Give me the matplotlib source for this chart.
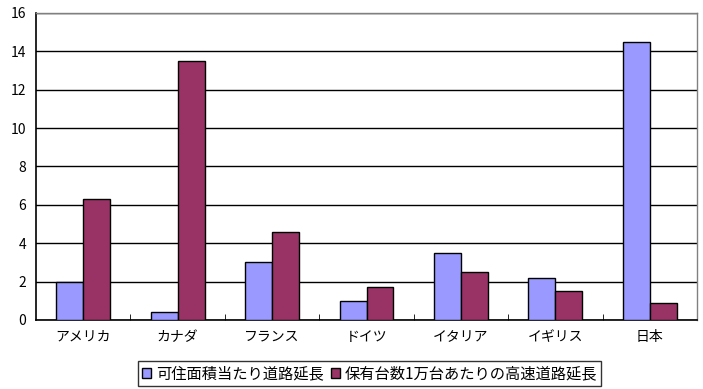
import matplotlib
matplotlib.use("Agg")
import matplotlib.pyplot as plt
import numpy as np

plt.rcParams['font.family'] = ['Noto Sans CJK JP', 'DejaVu Sans']

countries = ["アメリカ", "カナダ", "フランス", "ドイツ", "イタリア", "イギリス", "日本"]
road_per_area = [2.0, 0.42, 3.0, 1.0, 3.5, 2.2, 14.5]
highway_per_10k = [6.3, 13.5, 4.6, 1.7, 2.5, 1.5, 0.9]
series_names = ["可住面積当たり道路延長", "保有台数1万台あたりの高速道路延長"]

fig = plt.figure(figsize=(7.03, 3.89), dpi=100)
ax = fig.add_axes([0.0512, 0.1774, 0.9403, 0.7892])

x = np.arange(len(countries))
w = 0.2857
ax.bar(x - w/2, road_per_area, w, color="#9999FF", edgecolor="black", linewidth=1, label=series_names[0], zorder=3)
ax.bar(x + w/2, highway_per_10k, w, color="#993366", edgecolor="black", linewidth=1, label=series_names[1], zorder=3)

ax.set_xlim(-0.5, len(countries) - 0.5)
ax.set_ylim(0, 16)
ax.set_yticks(range(0, 17, 2))
ax.yaxis.grid(True, color="black", linewidth=1, zorder=0)
ax.tick_params(axis="y", length=0, labelsize=10, pad=7)

ax.set_xticks(x)
ax.set_xticklabels(countries, fontsize=10)
ax.tick_params(axis="x", length=0, pad=7)
ax.set_xticks(np.arange(0.5, len(countries) - 0.5, 1), minor=True)
ax.tick_params(axis="x", which="minor", direction="in", length=4, color="black")

for s in ["left", "bottom"]:
    ax.spines[s].set_color("black")
    ax.spines[s].set_linewidth(1.2)
for s in ["top", "right"]:
    ax.spines[s].set_color("#808080")
    ax.spines[s].set_linewidth(1)

leg = fig.legend(loc="lower center", bbox_to_anchor=(0.526, 0.0), ncol=2, fontsize=11,
                 frameon=True, fancybox=False, edgecolor="black", handlelength=0.6,
                 handleheight=0.6, handletextpad=0.3, columnspacing=0.5, borderpad=0.25,
                 borderaxespad=0.2)
leg.get_frame().set_linewidth(1)

fig.savefig("out.png", dpi=100)
